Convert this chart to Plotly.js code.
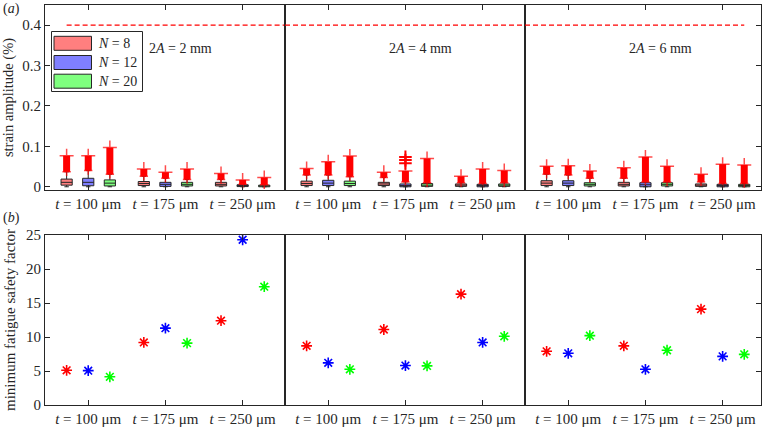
<!DOCTYPE html>
<html>
<head>
<meta charset="utf-8">
<script src="https://cdn.plot.ly/plotly-3.0.1.min.js"></script>
<style>html,body{margin:0;padding:0;background:#fff;}#chart{width:767px;height:428px;}</style>
</head>
<body>
<div id="chart"></div>
<script>
// ---------------- data ----------------
const tLabels = ['<i>t</i> = 100 μm', '<i>t</i> = 175 μm', '<i>t</i> = 250 μm'];
const ampLabels = ['2<i>A</i> = 2 mm', '2<i>A</i> = 4 mm', '2<i>A</i> = 6 mm'];
const nLabels = ['<i>N</i> = 8', '<i>N</i> = 12', '<i>N</i> = 20'];
const nColors = ['#ff0000', '#0000ff', '#00ff00'];
const boxFill = ['rgba(255,0,0,0.5)', 'rgba(0,0,255,0.5)', 'rgba(0,255,0,0.5)'];

// strain amplitude (%) box statistics, indexed [panel 2A][N][t]
const q1 = [
  [[0.004, 0.003, 0.002], [0.0025, 0.001, 0.0005], [0.002, 0.002, 0.000]],
  [[0.003, 0.003, 0.001], [0.003, 0.000, 0.000], [0.003, 0.001, 0.001]],
  [[0.003, 0.002, 0.001], [0.003, 0.000, 0.000], [0.002, 0.002, 0.000]]
];
const med = [
  [[0.011, 0.008, 0.006], [0.011, 0.006, 0.003], [0.009, 0.006, 0.002]],
  [[0.008, 0.007, 0.004], [0.009, 0.003, 0.003], [0.008, 0.004, 0.004]],
  [[0.009, 0.006, 0.004], [0.009, 0.005, 0.003], [0.006, 0.006, 0.003]]
];
const q3 = [
  [[0.019, 0.013, 0.011], [0.021, 0.011, 0.005], [0.017, 0.011, 0.004]],
  [[0.014, 0.011, 0.007], [0.016, 0.007, 0.006], [0.014, 0.008, 0.007]],
  [[0.015, 0.011, 0.007], [0.015, 0.010, 0.006], [0.010, 0.010, 0.006]]
];
const lowWhisker = [
  [[0, 0, 0], [0, 0, 0], [0, 0, 0]],
  [[0, 0, 0], [0, 0, 0], [0, 0, 0]],
  [[0, 0, 0], [0, 0, 0], [0, 0, 0]]
];
const outLo = [
  [[0.037, 0.026, 0.018], [0.040, 0.021, 0.006], [0.031, 0.018, 0.005]],
  [[0.029, 0.023, 0.010], [0.029, 0.012, 0.008], [0.025, 0.010, 0.010]],
  [[0.031, 0.021, 0.012], [0.029, 0.012, 0.008], [0.021, 0.012, 0.008]]
];
const outHi = [
  [[0.077, 0.044, 0.033], [0.077, 0.036, 0.017], [0.097, 0.044, 0.023]],
  [[0.045, 0.036, 0.026], [0.062, 0.039, 0.044], [0.076, 0.070, 0.040]],
  [[0.051, 0.047, 0.031], [0.052, 0.074, 0.056], [0.039, 0.051, 0.054]]
];
// isolated outliers above the dense run: [panel, N index, t index, value]
const isolatedOut = [
  [1, 1, 1, 0.058], [1, 1, 1, 0.066], [1, 1, 1, 0.074]
];
const strainLimit = 0.4;

// minimum fatigue safety factor, indexed [panel][N][t]
const safety = [
  [[5.1, 9.2, 12.4], [5.05, 11.3, 24.3], [4.15, 9.1, 17.4]],
  [[8.7, 11.1, 16.3], [6.2, 5.8, 9.2], [5.25, 5.75, 10.1]],
  [[7.9, 8.7, 14.1], [7.6, 5.25, 7.15], [10.2, 8.05, 7.45]]
];

// ---------------- layout helpers ----------------
const W = 767, H = 428;
const px = x => x / W, py = y => 1 - y / H;
const panelX = [[45, 285], [285, 525], [525, 761]];
const topY = [5, 190], botY = [235, 405];
const xPerUnit = 77.2, xStart = 0.44;
const offsets = [-0.28, 0, 0.28];
const serif = 'Liberation Serif';
const ink = '#262626';

const traces = [];
for (let p = 0; p < 3; p++) {
  const xa = 'x' + (p === 0 ? '' : p + 1);
  const ya = 'y' + (p === 0 ? '' : p + 1);
  const xb = 'x' + (p + 4);
  const yb = 'y' + (p + 4);
  const xEnd = xStart + (panelX[p][1] - panelX[p][0]) / xPerUnit;
  for (let n = 0; n < 3; n++) {
    const xs = [1, 2, 3].map(t => t + offsets[n]);
    // outlier runs
    for (let t = 0; t < 3; t++) {
      traces.push({
        type: 'scatter', mode: 'lines+markers', xaxis: xa, yaxis: ya,
        x: [xs[t], xs[t]], y: [outLo[p][n][t], outHi[p][n][t]],
        line: {color: '#ff0000', width: 7},
        marker: {symbol: 'cross-thin-open', size: [6, 10], line: {color: '#ff0000', width: 1.5}, color: '#ff0000'},
        showlegend: false, hoverinfo: 'skip'
      });
    }
    traces.push({
      type: 'box', xaxis: xa, yaxis: ya, x: xs,
      q1: q1[p][n], median: med[p][n], q3: q3[p][n],
      lowerfence: lowWhisker[p][n], upperfence: outLo[p][n],
      boxpoints: false, width: 0.145, whiskerwidth: 0.4,
      fillcolor: boxFill[n], line: {color: ink, width: 1},
      name: nLabels[n], showlegend: false
    });
    traces.push({
      type: 'scatter', mode: 'markers', xaxis: xb, yaxis: yb,
      x: xs, y: safety[p][n],
      marker: {symbol: 'asterisk-open', size: 9, line: {color: nColors[n], width: 1.6}, color: nColors[n]},
      name: nLabels[n], showlegend: false
    });
  }
  // isolated outliers
  const iso = isolatedOut.filter(o => o[0] === p);
  if (iso.length) {
    traces.push({
      type: 'scatter', mode: 'markers', xaxis: xa, yaxis: ya,
      x: iso.map(o => o[2] + 1 + offsets[o[1]]), y: iso.map(o => o[3]),
      marker: {symbol: 'cross-thin-open', size: 9, color: '#ff0000', line: {color: '#ff0000', width: 2}},
      showlegend: false, hoverinfo: 'skip'
    });
  }
  // limit line
  const x0 = p === 0 ? 1 + offsets[0] : xStart;
  const x1 = p === 2 ? 3 + offsets[2] : xEnd;
  traces.push({
    type: 'scatter', mode: 'lines', xaxis: xa, yaxis: ya,
    x: [x0, x1], y: [strainLimit, strainLimit],
    line: {color: '#ff0000', width: 1.2, dash: '5px,3px'},
    showlegend: false, hoverinfo: 'skip'
  });
}

const layout = {
  width: W, height: H, margin: {l: 0, r: 0, t: 0, b: 0},
  paper_bgcolor: '#fff', plot_bgcolor: '#fff',
  font: {family: serif, size: 15, color: ink},
  showlegend: false, shapes: [], annotations: []
};
const baseAxis = {
  showline: true, linecolor: ink, linewidth: 1, mirror: true,
  ticks: 'inside', ticklen: 5, tickcolor: ink, tickwidth: 1,
  showgrid: false, zeroline: false, fixedrange: true
};
for (let p = 0; p < 3; p++) {
  const xEnd = xStart + (panelX[p][1] - panelX[p][0]) / xPerUnit;
  const dom = [px(panelX[p][0]), px(panelX[p][1])];
  const sTop = p === 0 ? '' : p + 1;
  const sBot = p + 4;
  layout['xaxis' + sTop] = Object.assign({}, baseAxis, {
    domain: dom, range: [xStart, xEnd], anchor: 'y' + sTop,
    tickvals: [1, 2, 3], ticktext: tLabels, mirror: 'ticks',
    tickfont: {family: serif, size: 15, color: ink}
  });
  layout['xaxis' + sBot] = Object.assign({}, baseAxis, {
    domain: dom, range: [xStart, xEnd], anchor: 'y' + sBot,
    tickvals: [1, 2, 3], ticktext: tLabels, mirror: 'ticks',
    tickfont: {family: serif, size: 15, color: ink}
  });
  const yTop = Object.assign({}, baseAxis, {
    domain: [py(topY[1]), py(topY[0])], range: [-0.008, 0.45], anchor: 'x' + sTop,
    tickvals: [0, 0.1, 0.2, 0.3, 0.4], ticktext: ['0', '0.1', '0.2', '0.3', '0.4'],
    tickfont: {family: serif, size: 15, color: ink}
  });
  const yBot = Object.assign({}, baseAxis, {
    domain: [py(botY[1]), py(botY[0])], range: [0, 25], anchor: 'x' + sBot,
    tickvals: [0, 5, 10, 15, 20, 25],
    tickfont: {family: serif, size: 15, color: ink}
  });
  if (p === 0) {
    yTop.title = {text: 'strain amplitude (%)', font: {family: serif, size: 14.5, color: ink}, standoff: 6};
    yBot.title = {text: 'minimum fatigue safety factor', font: {family: serif, size: 15, color: ink}, standoff: 6};
  } else {
    yTop.showticklabels = false; yBot.showticklabels = false;
    if (p === 1) { yTop.ticks = ''; yBot.ticks = ''; }
    else { yTop.side = 'right'; yBot.side = 'right'; }
  }
  layout['yaxis' + sTop] = yTop;
  layout['yaxis' + sBot] = yBot;
  layout.annotations.push({
    xref: 'x' + sTop, yref: 'y' + sTop, x: 2.19, y: 0.343, text: ampLabels[p],
    showarrow: false, font: {family: serif, size: 14, color: ink}
  });
}
layout.annotations.push({xref: 'paper', yref: 'paper', x: px(1), y: py(9), xanchor: 'left', yanchor: 'middle',
  text: '(<i>a</i>)', showarrow: false, font: {family: serif, size: 14, color: ink}});
layout.annotations.push({xref: 'paper', yref: 'paper', x: px(1), y: py(218), xanchor: 'left', yanchor: 'middle',
  text: '(<i>b</i>)', showarrow: false, font: {family: serif, size: 14, color: ink}});

// legend (drawn manually)
layout.shapes.push({type: 'rect', xref: 'paper', yref: 'paper', x0: px(51.5), x1: px(142.5), y0: py(91.5), y1: py(31.5),
  line: {color: ink, width: 1}, fillcolor: '#fff', layer: 'above'});
const legY = [43.3, 62.5, 81.2];
for (let n = 0; n < 3; n++) {
  layout.shapes.push({type: 'rect', xref: 'paper', yref: 'paper', x0: px(54), x1: px(91.5),
    y0: py(legY[n] + 7), y1: py(legY[n] - 7), line: {color: ink, width: 1}, fillcolor: boxFill[n], layer: 'above'});
  layout.annotations.push({xref: 'paper', yref: 'paper', x: px(96), y: py(legY[n]), xanchor: 'left', yanchor: 'middle',
    text: nLabels[n], showarrow: false, font: {family: serif, size: 14, color: ink}});
}

Plotly.newPlot('chart', traces, layout, {displayModeBar: false, staticPlot: true});
</script>
</body>
</html>
